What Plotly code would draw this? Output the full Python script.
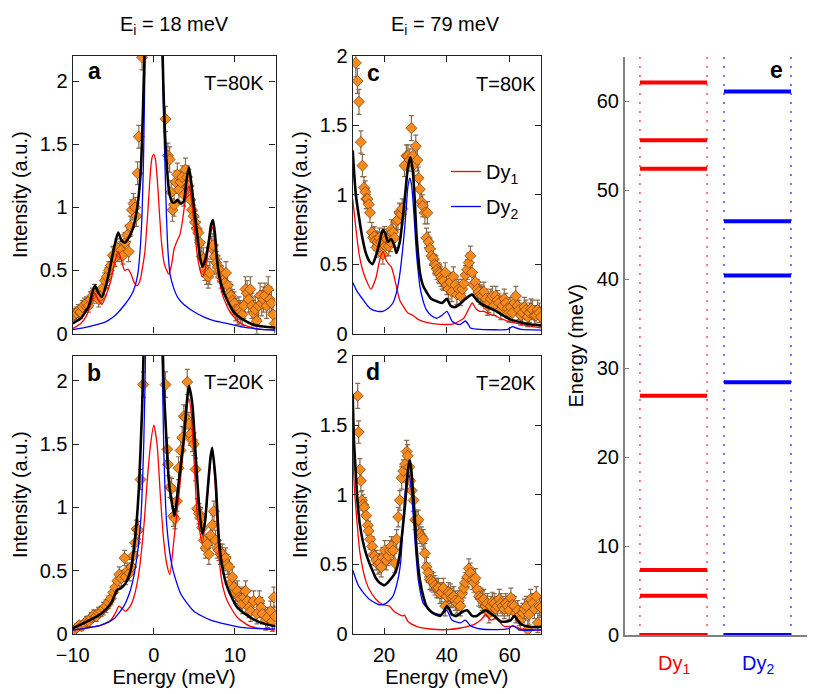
import plotly.graph_objects as go

# ---------------- data: panel a (Ei = 18 meV, T = 80K) ----------------
A_DATA = [(-9.8,0.15,0.05),(-9.55,0.16,0.05),(-9.3,0.18,0.05),(-9.05,0.17,0.05),(-8.8,0.21,0.05),(-8.55,0.23,0.05),
          (-8.3,0.24,0.05),(-8.05,0.22,0.05),(-7.8,0.27,0.06),(-7.55,0.3,0.06),(-7.3,0.33,0.06),(-7.05,0.3,0.06),
          (-6.8,0.27,0.06),(-6.55,0.3,0.06),(-6.3,0.36,0.06),(-6.05,0.42,0.06),(-5.8,0.45,0.07),(-5.55,0.5,0.07),
          (-5.3,0.54,0.07),(-5.05,0.62,0.07),(-4.8,0.6,0.07),(-4.55,0.68,0.07),(-4.3,0.64,0.07),(-4.05,0.66,0.07),
          (-3.8,0.62,0.07),(-3.55,0.72,0.08),(-3.3,0.78,0.08),(-3.1,0.65,0.08),(-2.9,0.85,0.08),(-2.7,0.98,0.08),
          (-2.5,1.03,0.08),(-2.3,1.0,0.08),(-2.15,0.93,0.08),(-2.0,1.27,0.09),(-1.85,1.56,0.09),(-1.45,2.19,0.1),
          (1.44,1.70,0.1),(1.73,1.41,0.1),(1.95,1.38,0.1),(2.15,1.12,0.09),(2.3,0.98,0.09),(2.5,1.02,0.09),
          (2.7,1.2,0.09),(2.9,1.26,0.09),(3.1,1.14,0.09),(3.3,1.2,0.09),(3.5,1.24,0.09),(3.7,1.1,0.09),
          (3.9,1.3,0.09),(4.1,1.24,0.09),(4.3,1.17,0.09),(4.5,1.06,0.09),(4.7,0.98,0.09),(4.9,0.93,0.09),
          (5.1,0.88,0.09),(5.3,0.83,0.09),(5.5,0.8,0.09),(5.7,0.72,0.09),(5.9,0.61,0.09),(6.1,0.59,0.09),
          (6.3,0.51,0.09),(6.5,0.48,0.09),(6.7,0.45,0.09),(6.9,0.48,0.09),(7.1,0.68,0.09),(7.3,0.7,0.09),
          (7.5,0.61,0.09),(7.7,0.56,0.09),(7.9,0.53,0.09),(8.1,0.5,0.09),(8.3,0.45,0.09),(8.5,0.42,0.09),
          (8.7,0.4,0.09),(8.9,0.48,0.09),(9.1,0.38,0.09),(9.3,0.32,0.09),(9.5,0.3,0.09),(9.7,0.26,0.09),
          (9.9,0.24,0.09),(10.1,0.19,0.09),(10.3,0.16,0.09),(10.5,0.2,0.09),(10.7,0.17,0.09),(10.9,0.15,0.09),
          (11.1,0.22,0.1),(11.3,0.35,0.1),(11.5,0.32,0.1),(11.7,0.27,0.1),(11.9,0.35,0.1),(12.1,0.22,0.1),
          (12.3,0.16,0.1),(12.5,0.19,0.1),(12.7,0.1,0.1),(12.9,0.22,0.1),(13.1,0.3,0.1),(13.3,0.24,0.1),
          (13.5,0.27,0.1),(13.7,0.3,0.1),(13.9,0.22,0.1),(14.1,0.35,0.1),(14.3,0.27,0.1),(14.5,0.24,0.1),
          (14.7,0.15,0.1),(14.9,0.08,0.1)]
A_TOTAL_X = [-10,-9,-8,-7.6,-7.25,-6.9,-6.4,-5.9,-5.4,-4.9,-4.4,-4.0,-3.6,-3.0,-2.5,-2.0,-1.6,-1.3,-1.1,-0.9,
             0.9,1.05,1.3,1.6,1.9,2.27,2.6,2.9,3.3,3.7,4.0,4.33,4.7,5.0,5.4,5.7,6.0,6.4,6.8,7.05,7.3,7.55,7.8,
             8.1,8.4,9.0,10.0,11.0,12.3,13.5,15.0]
A_TOTAL_Y = [0.08,0.12,0.22,0.32,0.38,0.33,0.29,0.38,0.52,0.68,0.80,0.74,0.72,0.77,0.85,1.02,1.3,1.85,2.4,3.2,
             3.2,2.3,1.7,1.33,1.12,1.04,1.04,1.06,1.03,1.05,1.2,1.32,1.15,0.98,0.76,0.6,0.53,0.6,0.74,0.86,0.9,
             0.78,0.58,0.45,0.37,0.27,0.16,0.11,0.07,0.055,0.045]
A_DY1_X = [-10,-9,-8.3,-7.7,-7.25,-6.9,-6.4,-5.9,-5.3,-4.8,-4.4,-4.0,-3.6,-3.2,-2.8,-2.4,-2.05,-1.7,-1.4,-1.1,
           -0.7,-0.4,-0.2,0,0.2,0.45,0.7,0.95,1.3,1.85,2.2,2.5,2.9,3.2,3.5,3.8,4.1,4.33,4.6,4.94,5.3,5.6,
           5.97,6.3,6.6,6.95,7.25,7.55,7.9,8.4,9.0,9.5,10.7,12.8,15.0]
A_DY1_Y = [0.04,0.08,0.14,0.25,0.32,0.27,0.23,0.3,0.42,0.57,0.65,0.58,0.5,0.51,0.47,0.4,0.38,0.42,0.52,0.65,
           1.0,1.3,1.4,1.42,1.38,1.2,0.95,0.72,0.55,0.47,0.55,0.67,0.74,0.78,0.88,1.02,1.13,1.17,1.08,0.88,
           0.65,0.53,0.45,0.5,0.61,0.77,0.85,0.72,0.51,0.32,0.22,0.16,0.08,0.035,0.03]
A_DY2_X = [-10,-8,-6,-5,-4.5,-3.7,-3.0,-2.5,-2.0,-1.7,-1.45,-1.25,-1.1,-0.9,-0.5,0,0.5,0.9,1.05,1.2,1.35,
           1.55,1.75,2.0,2.45,3.0,3.7,5.0,6.2,7.5,9.0,11.0,13.0,15.0]
A_DY2_Y = [0.03,0.055,0.09,0.13,0.16,0.22,0.28,0.34,0.46,0.65,0.95,1.45,2.1,3.0,4.5,5.5,4.5,3.0,2.2,1.75,1.4,
           0.95,0.65,0.47,0.36,0.28,0.23,0.17,0.13,0.1,0.08,0.05,0.035,0.025]

# ---------------- data: panel b (Ei = 18 meV, T = 20K) ----------------
B_DATA = [(-9.8,0.03,0.03),(-9.5,0.05,0.03),(-9.2,0.07,0.03),(-8.9,0.06,0.03),(-8.6,0.08,0.03),(-8.3,0.1,0.04),
          (-8.0,0.1,0.04),(-7.7,0.13,0.04),(-7.4,0.15,0.04),(-7.1,0.14,0.04),(-6.8,0.17,0.04),(-6.5,0.18,0.04),
          (-6.2,0.2,0.05),(-5.9,0.22,0.05),(-5.6,0.25,0.05),(-5.3,0.28,0.05),(-5.0,0.33,0.05),(-4.75,0.37,0.05),
          (-4.5,0.42,0.06),(-4.25,0.47,0.06),(-4.0,0.44,0.06),(-3.6,0.6,0.06),(-3.5,0.45,0.06),(-3.25,0.5,0.06),
          (-3.0,0.48,0.06),(-2.75,0.53,0.06),(-2.5,0.62,0.07),(-2.3,0.72,0.07),(-2.13,0.83,0.07),(-1.9,0.82,0.07),
          (-1.64,1.22,0.08),(-1.3,1.97,0.1),
          (1.44,1.97,0.1),(1.65,1.46,0.09),(1.75,1.34,0.09),(2.0,1.16,0.08),(2.2,1.15,0.08),(2.4,0.93,0.08),
          (2.6,0.91,0.08),(2.85,1.05,0.08),(3.05,1.31,0.09),(3.3,1.45,0.09),(3.5,1.55,0.09),(3.7,1.72,0.09),
          (3.9,1.71,0.09),(4.12,1.99,0.1),(4.33,1.66,0.09),(4.53,1.58,0.09),(4.74,1.53,0.09),(4.94,1.5,0.09),
          (5.15,1.3,0.09),(5.35,0.99,0.08),(5.56,0.95,0.08),(5.77,0.92,0.08),(5.97,0.84,0.08),(6.18,0.74,0.08),
          (6.38,0.68,0.08),(6.59,0.71,0.08),(6.79,0.63,0.08),(7.0,0.78,0.08),(7.2,0.86,0.08),(7.41,0.97,0.08),
          (7.62,0.74,0.08),(7.82,0.68,0.08),(8.03,0.66,0.08),(8.23,0.63,0.08),(8.44,0.63,0.08),(8.65,0.58,0.08),
          (8.85,0.6,0.08),(9.06,0.55,0.08),(9.26,0.53,0.08),(9.47,0.4,0.08),(9.67,0.45,0.08),(9.88,0.37,0.08),
          (10.09,0.32,0.08),(10.29,0.34,0.08),(10.5,0.29,0.08),(10.7,0.28,0.08),(10.91,0.24,0.08),(11.12,0.29,0.08),
          (11.32,0.34,0.08),(11.53,0.26,0.08),(11.73,0.21,0.08),(11.94,0.18,0.08),(12.3,0.26,0.08),(12.7,0.16,0.08),
          (13.0,0.26,0.08),(13.2,0.21,0.08),(13.4,0.16,0.08),(13.8,0.11,0.08),(14.0,0.13,0.08),(14.4,0.18,0.08),
          (14.6,0.1,0.08),(14.8,0.29,0.08),(14.95,0.14,0.08)]
B_TOTAL_X = [-10,-8.2,-6.5,-5.3,-4.5,-4.1,-3.5,-2.87,-2.26,-1.85,-1.44,-1.2,-0.9,0,0.9,1.03,1.2,1.44,1.85,
             2.27,2.55,3.09,3.71,4.1,4.33,4.74,5.15,5.56,5.97,6.3,6.59,7.0,7.2,7.62,8.03,8.44,9.06,10.29,11.94,
             13.17,15.0]
B_TOTAL_Y = [0.045,0.1,0.16,0.24,0.35,0.36,0.4,0.5,0.79,1.14,1.79,2.4,3.2,6.0,3.2,2.5,2.0,1.68,1.21,
             1.02,0.93,1.21,1.55,1.85,1.96,1.82,1.42,1.03,0.79,0.88,1.1,1.4,1.47,1.21,0.74,0.53,0.37,0.21,0.13,
             0.09,0.06]
B_DY1_X = [-10,-8,-6.5,-5.3,-4.7,-4.3,-3.9,-3.5,-2.9,-2.46,-1.85,-1.23,-0.8,-0.4,0,0.4,0.8,1.2,1.6,1.97,
           2.47,3.1,3.7,4.1,4.33,4.6,4.94,5.35,5.97,6.59,7.0,7.2,7.5,7.82,8.2,8.6,9.06,10.3,11.9,15.0]
B_DY1_Y = [0.03,0.05,0.07,0.11,0.17,0.22,0.2,0.18,0.22,0.29,0.48,0.85,1.22,1.5,1.65,1.5,1.1,0.75,0.55,0.47,
           0.74,1.1,1.5,1.8,1.86,1.75,1.4,0.95,0.72,1.07,1.38,1.44,1.25,0.85,0.5,0.35,0.26,0.13,0.06,0.03]
B_DY2_X = [-10,-6.5,-4.93,-3.7,-2.87,-2.26,-1.64,-1.23,-1.0,-0.7,0,0.7,1.0,1.24,1.62,2.27,3.3,4.94,7.0,
           11.1,15.0]
B_DY2_Y = [0.03,0.07,0.12,0.22,0.35,0.53,0.87,1.53,2.3,3.5,6.0,3.5,2.3,1.42,0.84,0.53,0.32,0.18,0.11,
           0.05,0.04]

# ---------------- data: panel c (Ei = 79 meV, T = 80K) ----------------
C_DATA = [(11.0,1.95,0.1),(11.5,1.82,0.09),(12.0,1.67,0.09),(12.6,1.38,0.08),(13.1,1.21,0.08),(13.6,1.05,0.08),
          (14.0,1.02,0.08),(14.3,0.97,0.07),(14.7,0.97,0.07),(15.1,0.93,0.07),(15.5,0.87,0.07),(16.1,0.73,0.07),
          (16.5,0.69,0.07),(16.9,0.7,0.07),(17.2,0.67,0.07),(17.6,0.62,0.07),(17.9,0.66,0.07),(18.5,0.69,0.07),
          (19.0,0.66,0.07),(19.6,0.57,0.07),(20.1,0.7,0.07),(20.5,0.63,0.07),(20.9,0.68,0.07),(21.5,0.63,0.07),
          (22.0,0.66,0.07),(22.3,0.75,0.07),(22.8,0.73,0.07),(23.3,0.69,0.07),(23.9,0.81,0.07),(24.4,0.82,0.07),
          (24.9,0.87,0.07),(25.4,0.86,0.07),(25.8,0.9,0.07),(26.5,1.21,0.08),(27.1,1.28,0.08),(27.6,1.28,0.08),
          (28.2,1.25,0.08),(28.7,1.48,0.09),(29.2,1.28,0.08),(29.6,1.22,0.08),(30.1,1.35,0.08),(30.6,1.25,0.08),
          (31.0,1.12,0.08),(31.4,1.04,0.08),(31.9,0.95,0.08),(32.3,0.92,0.08),(33.0,0.87,0.08),(33.5,0.69,0.07),
          (33.8,0.87,0.08),(34.2,0.66,0.07),(34.6,0.61,0.07),(35.1,0.56,0.07),(35.7,0.54,0.07),(36.1,0.5,0.07),
          (36.5,0.49,0.07),(36.9,0.46,0.07),(37.3,0.44,0.07),(37.7,0.43,0.07),(38.1,0.41,0.07),(38.5,0.39,0.07),
          (38.9,0.38,0.07),(39.5,0.44,0.07),(40.0,0.35,0.07),(40.5,0.32,0.07),(41.1,0.37,0.07),(41.6,0.3,0.07),
          (42.1,0.41,0.07),(42.7,0.35,0.07),(43.2,0.28,0.07),(43.8,0.32,0.07),(44.4,0.27,0.07),(44.9,0.32,0.07),
          (45.4,0.36,0.07),(45.9,0.42,0.07),(46.5,0.46,0.07),(47.0,0.51,0.07),(47.5,0.56,0.07),(48.0,0.44,0.07),
          (48.6,0.35,0.07),(49.1,0.37,0.07),(49.7,0.32,0.07),(50.2,0.3,0.07),(50.8,0.28,0.07),(51.3,0.27,0.07),
          (51.8,0.3,0.07),(52.4,0.25,0.07),(52.9,0.2,0.07),(53.4,0.22,0.07),(54.0,0.25,0.07),(54.5,0.27,0.07),
          (55.0,0.2,0.07),(55.6,0.27,0.07),(56.1,0.24,0.07),(56.6,0.22,0.07),(57.2,0.17,0.07),(57.7,0.2,0.07),
          (58.3,0.25,0.07),(58.8,0.22,0.07),(59.3,0.18,0.07),(59.8,0.15,0.07),(60.4,0.19,0.07),(60.9,0.15,0.07),
          (61.5,0.22,0.07),(62.0,0.27,0.07),(62.5,0.2,0.07),(63.0,0.17,0.07),(63.6,0.13,0.07),(64.1,0.15,0.07),
          (64.7,0.19,0.07),(65.2,0.17,0.07),(65.8,0.12,0.07),(66.3,0.15,0.07),(66.8,0.18,0.07),(67.3,0.17,0.07),
          (67.9,0.13,0.07),(68.4,0.13,0.07),(68.9,0.17,0.07),(69.5,0.15,0.07),(70.0,0.12,0.07)]
C_TOTAL_X = [10,11,12,13,14.2,15.3,16.3,17.4,18.5,19.6,20.4,21.2,22.2,23.2,23.9,25.0,26.0,26.8,27.6,28.4,29.2,
             29.8,30.3,30.9,31.4,32.5,33.5,35.0,37.0,38.5,40.0,41.2,42.5,44.0,46.0,48.0,50.0,52.0,55.0,57.2,
             60.4,63.7,66.9,70.0]
C_TOTAL_Y = [1.32,1.0,0.84,0.7,0.58,0.52,0.5,0.56,0.65,0.75,0.72,0.66,0.68,0.64,0.58,0.66,0.84,1.02,1.2,1.27,
             1.16,0.95,0.72,0.55,0.44,0.34,0.3,0.25,0.23,0.22,0.25,0.2,0.19,0.21,0.25,0.28,0.23,0.2,0.17,0.14,
             0.1,0.08,0.065,0.06]
C_DY1_X = [10,11,12,13,14.2,15.8,17.4,18.3,19.0,19.7,20.6,21.5,22.3,23.1,23.9,25.0,26.0,27.5,29.2,31.0,33.5,
           37.8,42.2,44.0,45.4,46.8,48.1,49.2,50.5,51.8,53.5,55.1,57.0,59.4,62.0,63.7,66.0,70.0]
C_DY1_Y = [0.97,0.76,0.58,0.47,0.39,0.32,0.4,0.5,0.56,0.59,0.53,0.5,0.48,0.42,0.34,0.24,0.2,0.15,0.13,0.1,0.08,
           0.066,0.07,0.09,0.11,0.17,0.22,0.18,0.16,0.16,0.14,0.13,0.11,0.09,0.075,0.066,0.055,0.04]
C_DY2_X = [10,11.5,13.1,14.7,16.3,18.0,19.6,21.2,22.8,24.0,24.9,25.8,26.6,27.2,27.6,28.2,28.7,29.2,29.8,30.3,
           30.9,31.4,32.5,33.5,35.0,36.8,38.4,40.0,40.8,41.6,43.0,44.3,45.9,47.0,47.5,50.8,59.4,61.0,62.0,63.7,70.0]
C_DY2_Y = [0.37,0.3,0.25,0.2,0.17,0.16,0.16,0.18,0.22,0.3,0.41,0.58,0.77,0.95,1.06,1.12,1.08,0.96,0.76,0.58,
           0.44,0.34,0.23,0.17,0.13,0.11,0.13,0.16,0.13,0.09,0.07,0.066,0.09,0.06,0.04,0.03,0.03,0.05,0.04,0.03,0.025]

# ---------------- data: panel d (Ei = 79 meV, T = 20K) ----------------
D_DATA = [(11.6,1.71,0.09),(11.9,1.45,0.08),(12.3,1.18,0.08),(12.6,1.1,0.08),(12.9,0.96,0.07),(13.3,0.93,0.07),
          (13.7,0.91,0.07),(14.3,0.85,0.07),(14.8,0.78,0.07),(15.1,0.74,0.07),(15.6,0.68,0.07),(16.2,0.63,0.07),
          (16.6,0.57,0.07),(17.0,0.56,0.07),(17.5,0.53,0.07),(18.1,0.5,0.07),(18.6,0.51,0.07),(19.1,0.48,0.07),
          (19.6,0.55,0.07),(20.2,0.6,0.07),(20.7,0.53,0.07),(21.3,0.56,0.07),(21.8,0.6,0.07),(22.3,0.63,0.07),
          (22.9,0.6,0.07),(23.4,0.51,0.07),(24.0,0.68,0.07),(24.5,0.84,0.07),(25.0,0.96,0.07),(25.6,1.12,0.08),
          (26.1,1.17,0.08),(26.7,1.22,0.08),(27.2,1.31,0.08),(27.5,1.28,0.08),(28.0,1.2,0.08),(28.3,1.1,0.08),
          (28.8,1.03,0.08),(29.4,0.96,0.08),(29.9,0.82,0.07),(30.4,0.81,0.07),(30.9,0.82,0.07),(31.4,0.72,0.07),
          (32.0,0.7,0.07),(32.5,0.68,0.07),(33.0,0.58,0.07),(33.5,0.48,0.07),(34.1,0.44,0.07),(34.6,0.39,0.07),
          (35.1,0.38,0.07),(35.7,0.37,0.07),(36.2,0.35,0.07),(36.8,0.33,0.07),(37.3,0.33,0.07),(37.8,0.29,0.07),
          (38.4,0.3,0.07),(38.9,0.33,0.07),(39.5,0.2,0.07),(40.0,0.27,0.07),(40.5,0.3,0.07),(41.1,0.29,0.07),
          (41.6,0.26,0.07),(42.2,0.27,0.07),(42.7,0.24,0.07),(43.2,0.22,0.07),(43.8,0.24,0.07),(44.3,0.2,0.07),
          (44.8,0.29,0.07),(45.4,0.33,0.07),(45.9,0.37,0.07),(46.5,0.41,0.07),(47.0,0.47,0.07),(47.5,0.44,0.07),
          (48.1,0.39,0.07),(48.6,0.37,0.07),(49.1,0.4,0.07),(49.7,0.32,0.07),(50.2,0.27,0.07),(50.8,0.26,0.07),
          (51.3,0.24,0.07),(51.8,0.25,0.07),(52.4,0.2,0.07),(52.9,0.22,0.07),(53.4,0.15,0.07),(54.0,0.2,0.07),
          (54.5,0.23,0.07),(55.1,0.22,0.07),(55.6,0.18,0.07),(56.1,0.2,0.07),(56.7,0.25,0.07),(57.2,0.22,0.07),
          (57.7,0.2,0.07),(58.3,0.18,0.07),(58.8,0.22,0.07),(59.3,0.2,0.07),(59.9,0.17,0.07),(60.4,0.26,0.07),
          (60.9,0.21,0.07),(61.5,0.2,0.07),(62.0,0.15,0.07),(62.6,0.17,0.07),(63.1,0.13,0.07),(63.4,0.1,0.07),
          (64.2,0.15,0.07),(64.7,0.18,0.07),(65.3,0.2,0.07),(65.8,0.03,0.07),(66.2,0.14,0.07),(66.7,0.25,0.07),
          (67.4,0.22,0.07),(67.9,0.18,0.07),(68.5,0.27,0.07),(69.0,0.08,0.07),(69.5,0.2,0.07),(70.0,0.19,0.07)]
D_TOTAL_X = [10,10.4,11,11.5,12.2,13.1,14.2,15.3,16.4,17.4,18.5,20.1,21.2,22.3,23.3,23.9,24.9,25.8,26.6,27.2,
             27.6,28.2,28.7,29.2,29.8,30.3,30.9,31.4,32.5,33.5,35.0,36.5,37.8,39.0,40.0,41.0,41.6,43.0,43.8,45.0,
             46.5,48.1,49.5,50.8,52.4,53.8,55.1,57.2,59.0,60.4,61.5,62.5,63.7,66.9,70.0]
D_TOTAL_Y = [1.72,1.39,1.15,0.96,0.8,0.68,0.58,0.51,0.45,0.40,0.37,0.35,0.37,0.40,0.43,0.46,0.56,0.73,0.91,1.07,
             1.18,1.25,1.17,1.03,0.83,0.63,0.48,0.39,0.27,0.2,0.16,0.14,0.13,0.16,0.2,0.17,0.14,0.13,0.14,0.16,
             0.17,0.13,0.13,0.15,0.17,0.15,0.13,0.09,0.09,0.1,0.13,0.1,0.07,0.05,0.05]
D_DY1_X = [10,10.4,11.5,12.2,13.1,14.2,15.3,17.4,19.6,21.7,22.5,23.3,24.9,25.8,26.5,27.6,30.3,34.6,40.0,44.3,
           48.6,50.8,52.4,54.0,55.6,58.3,61.5,63.7,70.0]
D_DY1_Y = [1.46,1.1,0.77,0.6,0.48,0.38,0.32,0.25,0.21,0.2,0.18,0.16,0.14,0.13,0.135,0.09,0.055,0.036,0.031,0.043,
           0.067,0.1,0.14,0.1,0.11,0.055,0.055,0.036,0.026]
D_DY2_X = [10,12,15.3,18.5,20.6,22.8,24.4,25.3,26.0,27.1,28.0,28.7,29.8,30.9,32.5,35.7,38.4,40.0,41.6,44.3,
           45.9,47.5,50.8,59.4,61.0,63.1,70.0]
D_DY2_Y = [0.46,0.34,0.25,0.21,0.22,0.27,0.39,0.52,0.77,1.1,1.14,1.03,0.68,0.39,0.22,0.15,0.14,0.17,0.1,0.08,
           0.1,0.06,0.036,0.036,0.06,0.03,0.03]

# ---------------- data: panel e (crystal-field levels, meV) ----------------
DY1_LEVELS = [0, 4.4, 7.3, 26.9, 52.4, 55.6, 62.1]
DY2_LEVELS = [0, 28.4, 40.4, 46.5, 61.1]
LEVEL_LABELS = ["Dy<sub>1</sub>", "Dy<sub>2</sub>"]
E_TICKS = [0, 10, 20, 30, 40, 50, 60]

# ---------------- styling ----------------
W, H = 815, 694
FONT = "Liberation Sans, Arial, Helvetica, sans-serif"
RED, BLUE = "#ff0000", "#0000ff"
ORANGE, EDGE, ERRC = "#f58a1f", "#7a3a05", "#8a6a4a"
FS_TICK, FS_TITLE = 20, 20


def px(x):
    return x / W


def py(y):
    return 1 - y / H


fig = go.Figure()


def add_panel(xa, ya, data, dy1x, dy1y, dy2x, dy2y, totx, toty, legend=False):
    xs = [d[0] for d in data]
    ys = [d[1] for d in data]
    es = [d[2] for d in data]
    fig.add_trace(go.Scatter(x=xs, y=ys, mode="markers", xaxis=xa, yaxis=ya, showlegend=False,
                             marker=dict(symbol="diamond", size=8.5, color=ORANGE,
                                         line=dict(color=EDGE, width=0.7)),
                             error_y=dict(type="data", array=es, color=ERRC, thickness=1.2, width=2.5)))
    fig.add_trace(go.Scatter(x=dy1x, y=dy1y, mode="lines", xaxis=xa, yaxis=ya, name="Dy<sub>1</sub>",
                             showlegend=legend, legendgroup="g1",
                             line=dict(color=RED, width=1.3, shape="spline", smoothing=0.6)))
    fig.add_trace(go.Scatter(x=dy2x, y=dy2y, mode="lines", xaxis=xa, yaxis=ya, name="Dy<sub>2</sub>",
                             showlegend=legend, legendgroup="g2",
                             line=dict(color=BLUE, width=1.3, shape="spline", smoothing=0.6)))
    fig.add_trace(go.Scatter(x=totx, y=toty, mode="lines", xaxis=xa, yaxis=ya, showlegend=False,
                             line=dict(color="black", width=2.6, shape="spline", smoothing=0.6)))


add_panel("x", "y", A_DATA, A_DY1_X, A_DY1_Y, A_DY2_X, A_DY2_Y, A_TOTAL_X, A_TOTAL_Y)
add_panel("x2", "y2", B_DATA, B_DY1_X, B_DY1_Y, B_DY2_X, B_DY2_Y, B_TOTAL_X, B_TOTAL_Y)
add_panel("x3", "y3", C_DATA, C_DY1_X, C_DY1_Y, C_DY2_X, C_DY2_Y, C_TOTAL_X, C_TOTAL_Y, legend=True)
add_panel("x4", "y4", D_DATA, D_DY1_X, D_DY1_Y, D_DY2_X, D_DY2_Y, D_TOTAL_X, D_TOTAL_Y)

# panel e: columns for the two Dy sites
COL1 = (0.082, 0.451)
COL2 = (0.544, 0.912)
for cols, levels, color in ((COL1, DY1_LEVELS, RED), (COL2, DY2_LEVELS, BLUE)):
    lx, ly = [], []
    for lev in levels:
        lx += [cols[0], cols[1], None]
        ly += [lev, lev, None]
    fig.add_trace(go.Scatter(x=lx, y=ly, mode="lines", xaxis="x5", yaxis="y5", showlegend=False,
                             line=dict(color=color, width=4)))
    for xc in cols:
        fig.add_shape(type="line", xref="x5", yref="y5 domain", x0=xc, x1=xc, y0=0, y1=1,
                      line=dict(color=color, width=1.5, dash="2px,7px"), opacity=0.7)

box = dict(showline=True, linecolor="#222", linewidth=1.4, mirror="ticks", ticks="inside",
           ticklen=6, tickwidth=1.2, tickcolor="#222", showgrid=False, zeroline=False, automargin=False,
           tickfont=dict(size=FS_TICK, color="black", family=FONT))

XA = [px(72.7), px(275.5)]
XC = [px(352.7), px(541)]
YT = [py(333.5), py(56)]
YB = [py(634), py(355.5)]

ytitle = dict(text="Intensity (a.u.)", font=dict(size=FS_TITLE, family=FONT, color="black"), standoff=6)
xtitle = dict(text="Energy (meV)", font=dict(size=FS_TITLE, family=FONT, color="black"), standoff=0)

fig.update_layout(
    width=W, height=H, margin=dict(l=0, r=0, t=0, b=0, autoexpand=False),
    paper_bgcolor="white", plot_bgcolor="white",
    font=dict(family=FONT, color="black"),
    xaxis=dict(box, domain=XA, anchor="y", range=[-10, 15], dtick=10, showticklabels=False),
    yaxis=dict(box, domain=YT, anchor="x", range=[0, 2.2], dtick=0.5, title=ytitle),
    xaxis2=dict(box, domain=XA, anchor="y2", range=[-10, 15], dtick=10, title=xtitle, ticklabelstandoff=3),
    yaxis2=dict(box, domain=YB, anchor="x2", range=[0, 2.2], dtick=0.5, title=ytitle),
    xaxis3=dict(box, domain=XC, anchor="y3", range=[10, 70], tick0=0, dtick=20, showticklabels=False),
    yaxis3=dict(box, domain=YT, anchor="x3", range=[0, 2], dtick=0.5, title=ytitle),
    xaxis4=dict(box, domain=XC, anchor="y4", range=[10, 70], tick0=0, dtick=20, title=xtitle, ticklabelstandoff=3),
    yaxis4=dict(box, domain=YB, anchor="x4", range=[0, 2], dtick=0.5, title=ytitle),
    xaxis5=dict(domain=[px(625), px(807)], anchor="y5", range=[0, 1], showline=True, linecolor="#808080",
                linewidth=2, showticklabels=False, ticks="", showgrid=False, zeroline=False, automargin=False),
    yaxis5=dict(domain=[py(635), py(56.7)], anchor="x5", range=[0, 65], tickvals=E_TICKS, showline=True,
                linecolor="#808080", linewidth=2, ticks="inside", ticklen=4, tickcolor="#808080",
                showgrid=False, zeroline=False, automargin=False,
                tickfont=dict(size=FS_TICK, family=FONT, color="black"),
                title=dict(text="Energy (meV)", font=dict(size=FS_TITLE, family=FONT, color="black"), standoff=8)),
    legend=dict(x=px(446), y=py(152), xanchor="left", yanchor="top", bgcolor="rgba(0,0,0,0)",
                font=dict(size=FS_TITLE, family=FONT, color="black"), itemwidth=30,
                tracegroupgap=6),
)

ann = []
for txt, x, y in (("a", 94, 71), ("b", 94, 373), ("c", 373, 73), ("d", 373, 372), ("e", 776, 70)):
    ann.append(dict(text="<b>%s</b>" % txt, x=px(x), y=py(y), xref="paper", yref="paper", showarrow=False,
                    xanchor="center", yanchor="middle", font=dict(size=23, family=FONT, color="black")))
for txt, x, y in (("T=80K", 266, 83), ("T=20K", 266, 382), ("T=80K", 538, 84), ("T=20K", 538, 383)):
    ann.append(dict(text=txt, x=px(x), y=py(y), xref="paper", yref="paper", showarrow=False,
                    xanchor="right", yanchor="middle", font=dict(size=FS_TITLE, family=FONT, color="black")))
for txt, x in (("E<sub>i</sub> = 18 meV", 174), ("E<sub>i</sub> = 79 meV", 446)):
    ann.append(dict(text=txt, x=px(x), y=py(26), xref="paper", yref="paper", showarrow=False,
                    xanchor="center", yanchor="middle", font=dict(size=FS_TITLE, family=FONT, color="black")))
for txt, cols, color in ((LEVEL_LABELS[0], COL1, RED), (LEVEL_LABELS[1], COL2, BLUE)):
    ann.append(dict(text=txt, x=(cols[0] + cols[1]) / 2, y=py(664), xref="x5", yref="paper", showarrow=False,
                    xanchor="center", yanchor="middle", font=dict(size=FS_TITLE, family=FONT, color=color)))
fig.update_layout(annotations=ann)

fig.write_html("out.html")
